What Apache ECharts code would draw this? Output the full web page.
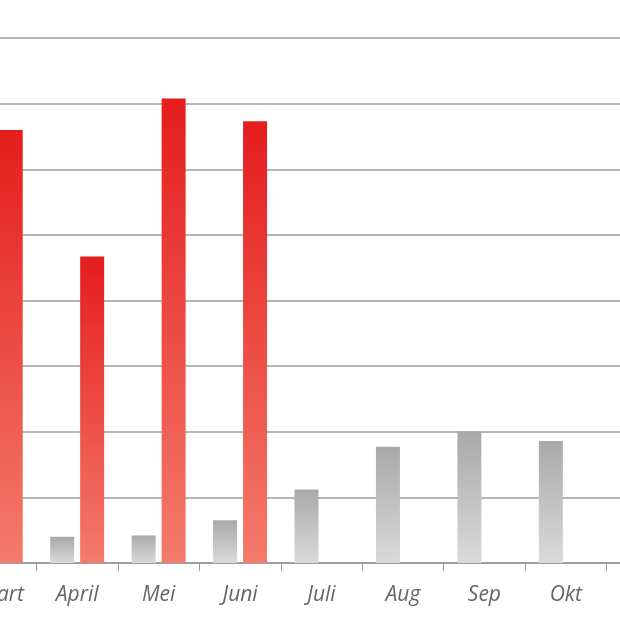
<!DOCTYPE html><html><head><meta charset="utf-8"><script src="https://cdn.jsdelivr.net/npm/echarts@6/dist/echarts.min.js"></script>
<style>html,body{margin:0;background:#fff}#c{width:620px;height:620px}</style></head><body><div id="c"></div>
<script>
const categories=['Maart','April','Mei','Juni','Juli','Aug','Sep','Okt','Nov'];
const grayValues=[0.3,0.4,0.42,0.65,1.12,1.77,2.0,1.86,1.4];
const redValues=[6.6,4.67,7.08,6.73,null,null,null,null,null];
const yTicks=[0,1,2,3,4,5,6,7,8];
const ch=echarts.init(document.getElementById('c'));
const grad=(a,b)=>new echarts.graphic.LinearGradient(0,0,0,1,[{offset:0,color:a},{offset:1,color:b}]);
ch.setOption({
 animation:false,
 grid:{left:-45,width:733,top:38,height:525,containLabel:false,outerBoundsMode:'none'},
 xAxis:{type:'category',data:categories,
  axisLine:{lineStyle:{color:'#999',width:1.5}},
  axisTick:{show:true,length:8,lineStyle:{color:'#999'}},
  axisLabel:{interval:0,fontStyle:'italic',fontSize:21,color:'#666',margin:22,fontFamily:'Open Sans'}},
 yAxis:{type:'value',min:yTicks[0],max:yTicks[yTicks.length-1],interval:1,
  axisLabel:{show:false},axisLine:{show:false},axisTick:{show:false},
  splitLine:{lineStyle:{color:'#b5b5b5',width:2}}},
 series:[
  {type:'bar',data:grayValues,barWidth:24,barGap:'25%',itemStyle:{color:grad('#a9a9a9','#dadada')}},
  {type:'bar',data:redValues,barWidth:24,itemStyle:{color:grad('#e41d1d','#f47b6c')}}
 ]
});
</script></body></html>
